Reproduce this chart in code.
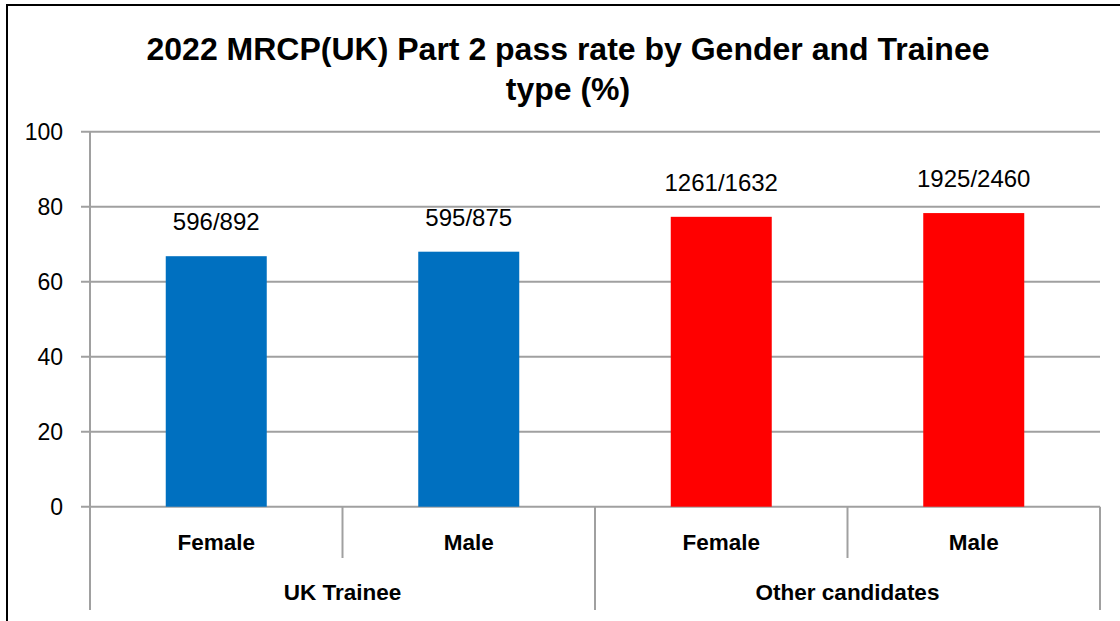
<!doctype html>
<html>
    <head>
        <script src="https://d3js.org/d3.v7.min.js"></script>
        <style>
            body,
            html {
                margin: 0;
                padding: 0;
                overflow: hidden;
                background: #fff;
            }
        </style>
    </head>
    <body>
        <script>
            // values
            const categories = ["Female", "Male", "Female", "Male"];
            const groups = ["UK Trainee", "Other candidates"];
            const passRates = [66.8, 68.0, 77.3, 78.3];
            const barLabels = ["596/892", "595/875", "1261/1632", "1925/2460"];
            const yTicks = [0, 20, 40, 60, 80, 100];

            const width = 1120;
            const height = 621;
            const plot = { left: 90, right: 1100, top: 131.7, bottom: 506.7 };
            const font = "'Liberation Sans', Arial, sans-serif";
            const gridColor = "#a0a0a0";
            const barColors = ["#0070c0", "#0070c0", "#ff0000", "#ff0000"];

            const svg = d3
                .create("svg")
                .attr("width", width)
                .attr("height", height)
                .attr("viewBox", [0, 0, width, height])
                .style("font-family", font);

            // outer chart border
            svg.append("rect")
                .attr("x", 7)
                .attr("y", 5)
                .attr("width", width + 10)
                .attr("height", height + 10)
                .attr("fill", "#fff")
                .attr("stroke", "#000")
                .attr("stroke-width", 2);

            // title
            const title = svg
                .append("text")
                .attr("text-anchor", "middle")
                .attr("font-weight", "bold")
                .attr("font-size", 32)
                .attr("fill", "#000");
            title.append("tspan").attr("x", 568).attr("y", 60)
                .text("2022 MRCP(UK) Part 2 pass rate by Gender and Trainee");
            title.append("tspan").attr("x", 568).attr("y", 100).text("type (%)");

            const x = d3
                .scaleBand()
                .domain(d3.range(categories.length))
                .range([plot.left, plot.right])
                .paddingInner(0.6)
                .paddingOuter(0.3);
            const step = x.step();

            const y = d3
                .scaleLinear()
                .domain([0, 100])
                .range([plot.bottom, plot.top]);

            // gridlines
            svg.append("g")
                .selectAll("line")
                .data(yTicks)
                .join("line")
                .attr("x1", plot.left - 9)
                .attr("x2", plot.right)
                .attr("y1", (d) => y(d))
                .attr("y2", (d) => y(d))
                .attr("stroke", gridColor)
                .attr("stroke-width", 2);

            // y axis line
            svg.append("line")
                .attr("x1", plot.left)
                .attr("x2", plot.left)
                .attr("y1", plot.top)
                .attr("y2", plot.bottom)
                .attr("stroke", gridColor)
                .attr("stroke-width", 2);

            // y tick labels
            svg.append("g")
                .selectAll("text")
                .data(yTicks)
                .join("text")
                .attr("x", 63)
                .attr("y", (d) => y(d))
                .attr("dy", "0.35em")
                .attr("text-anchor", "end")
                .attr("font-size", 23)
                .attr("fill", "#000")
                .text((d) => d);

            // bars
            svg.append("g")
                .selectAll("rect")
                .data(passRates)
                .join("rect")
                .attr("x", (d, i) => x(i))
                .attr("y", (d) => y(d))
                .attr("width", x.bandwidth())
                .attr("height", (d) => y(0) - y(d))
                .attr("fill", (d, i) => barColors[i]);

            // data labels
            svg.append("g")
                .selectAll("text")
                .data(passRates)
                .join("text")
                .attr("x", (d, i) => x(i) + x.bandwidth() / 2)
                .attr("y", (d) => y(d) - 26)
                .attr("text-anchor", "middle")
                .attr("font-size", 24)
                .attr("fill", "#000")
                .text((d, i) => barLabels[i]);

            // category separators (inner level short, group level long)
            const seps = d3.range(categories.length + 1);
            svg.append("g")
                .selectAll("line")
                .data(seps)
                .join("line")
                .attr("x1", (i) => plot.left + i * step)
                .attr("x2", (i) => plot.left + i * step)
                .attr("y1", plot.bottom)
                .attr("y2", (i) => (i % 2 === 0 ? 610 : 558))
                .attr("stroke", gridColor)
                .attr("stroke-width", 2);

            // category labels
            svg.append("g")
                .selectAll("text")
                .data(categories)
                .join("text")
                .attr("x", (d, i) => x(i) + x.bandwidth() / 2)
                .attr("y", 550)
                .attr("text-anchor", "middle")
                .attr("font-size", 22.5)
                .attr("font-weight", "bold")
                .attr("fill", "#000")
                .text((d) => d);

            // group labels
            svg.append("g")
                .selectAll("text")
                .data(groups)
                .join("text")
                .attr("x", (d, i) => plot.left + (i * 2 + 1) * step)
                .attr("y", 600)
                .attr("text-anchor", "middle")
                .attr("font-size", 22.5)
                .attr("font-weight", "bold")
                .attr("fill", "#000")
                .text((d) => d);

            document.body.appendChild(svg.node());
        </script>
    </body>
</html>
